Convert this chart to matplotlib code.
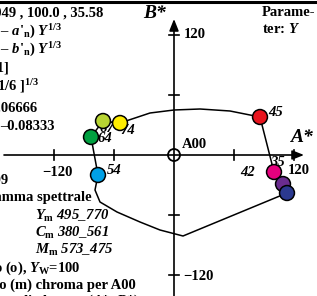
"""
CIELAB-like A*/B* gamut diagram with hue-labelled colour points.
"""

import matplotlib
matplotlib.use("Agg")
import matplotlib.pyplot as plt
from matplotlib.patches import Circle

plt.rcParams["font.family"] = "Liberation Serif"
plt.rcParams["font.weight"] = "bold"
plt.rcParams["mathtext.fontset"] = "custom"
plt.rcParams["mathtext.rm"] = "Liberation Serif:bold"
plt.rcParams["mathtext.it"] = "Liberation Serif:bold:italic"
plt.rcParams["mathtext.bf"] = "Liberation Serif:bold"

# gamut outline (A*, B*)
outline_a = [-54, -24, 0, 26, 56, 86, 100, 109, 113, 9, -14, -34, -57, -74, -79, -76, -83, -71, -54]
outline_b = [32, 42, 45, 46, 44, 38, -17, -29, -38, -81, -75, -67, -57, -47, -35, -20, 18, 34, 32]

# coloured sample points
point_a = [-54, -71, -83, -76, 86, 100, 109, 113]
point_b = [32, 34, 18, -20, 38, -17, -29, -38]
point_colors = ["#ffec00", "#b8d433", "#00a040", "#00a0e6",
                "#e8141e", "#e6007e", "#6a2c8f", "#2b3990"]

# hue labels: (text, index of point)
hue_labels = ["74", "67", "64", "54", "45", "35", "42"]
hue_points = [0, 1, 2, 3, 4, 5, 5]
hue_offsets = [(0, -8), (-3, -8), (7, -1), (9, 5), (8, 4), (-4, 9), (-34, -1)]

axis_ticks = [-120, -60, 60, 120]

FS = 10.5


def main():
    fig = plt.figure(figsize=(3.17, 2.96), dpi=100)
    ax = fig.add_axes([0, 0, 1, 1])
    ax.set_xlim(-174, 143)
    ax.set_ylim(-141, 155)
    ax.axis("off")

    # top frame line
    ax.axhline(153.5, color="k", lw=2.2)

    # axes with arrows
    arrow = dict(arrowstyle="-|>,head_length=0.5,head_width=0.2", color="k",
                 lw=1.2, mutation_scale=14, shrinkA=0, shrinkB=0)
    ax.annotate("", xy=(130, 0), xytext=(-170, 0), arrowprops=arrow)
    ax.annotate("", xy=(0, 136), xytext=(0, -145), arrowprops=arrow)
    for t in axis_ticks:
        ax.plot([t, t], [-5, 5], color="k", lw=1.2)
        ax.plot([-5, 5], [t, t], color="k", lw=1.2)
    ax.add_patch(Circle((0, 0), 6, fill=False, ec="k", lw=1.3, zorder=3))

    # outline and points
    ax.plot(outline_a, outline_b, color="k", lw=1.1, zorder=2)
    for i, (text, idx) in enumerate(zip(hue_labels, hue_points)):
        dx, dy = hue_offsets[i]
        ax.text(point_a[idx] + dx, point_b[idx] + dy, text, fontsize=FS,
                style="italic", ha="left", va="center", zorder=3)
    ax.scatter(point_a, point_b, s=115, c=point_colors, edgecolors="k",
               linewidths=1.1, zorder=4)

    # axis labels
    ax.text(116, 17, "A*", fontsize=14, style="italic", ha="left", va="center")
    ax.text(-31, 141, "B*", fontsize=14, style="italic", ha="left", va="center")
    ax.text(8, 10, "A00", fontsize=FS, ha="left", va="center")
    ax.text(10, 120, "120", fontsize=FS, ha="left", va="center")
    ax.text(9, -122, "\u2212120", fontsize=FS, ha="left", va="center")
    ax.text(-117, -17, "\u2212120", fontsize=FS, ha="center", va="center")
    ax.text(114, -15, "120", fontsize=FS, ha="left", va="center")
    ax.text(88, 143, "Parame-", fontsize=FS, ha="left", va="center")
    ax.text(88, 126, r"ter: $Y$", fontsize=FS, ha="left", va="center")

    # left text block (cut at the left edge)
    right_lines = [
        (-71, 142, "95.049 , 100.0 , 35.58"),
        (-112, 123, r"$a$* = 500 ($a$' \u2013 $a$'$_\mathrm{n}$) $Y^{1/3}$"),
        (-112, 105, r"$b$* = 200 ($b$' \u2013 $b$'$_\mathrm{n}$) $Y^{1/3}$"),
        (-164, 87, "[0,1]"),
        (-134, 69, r"[ 1/6 ]$^{1/3}$"),
        (-136, 47, "0.06666"),
        (-119, 28, "\u20130.08333"),
        (-166, -25, "2009"),
        (-82, -42, "gamma spettrale"),
        (-93, -113, r"bianco (o), $Y_\mathrm{W}$=100"),
        (-38, -130, "massimo (m) chroma per A00"),
        (-34, -146, r"linea di chroma ($A$*, $B$*)"),
    ]
    for x, y, s in right_lines:
        ax.text(x, y, s.replace("\\u2013", "\u2013"), fontsize=FS,
                ha="right", va="center")

    for y, s in [(-61, r"$Y_\mathrm{m}$ 495_770"),
                 (-78, r"$C_\mathrm{m}$ 380_561"),
                 (-95, r"$M_\mathrm{m}$ 573_475")]:
        ax.text(-139, y, s, fontsize=FS, style="italic", ha="left", va="center")

    fig.savefig("out.png", dpi=100)


if __name__ == "__main__":
    main()
